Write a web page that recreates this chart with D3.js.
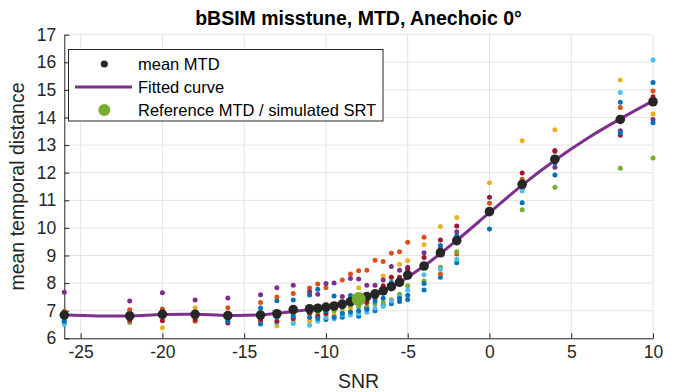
<!DOCTYPE html>
<html><head><meta charset="utf-8">
<script src="https://cdn.jsdelivr.net/npm/d3@7"></script>
<style>
html,body{margin:0;padding:0;background:#fff;}
svg{display:block;font-family:"Liberation Sans",Arial,Helvetica,sans-serif;}
</style></head>
<body><svg id="c" width="676" height="392"></svg>
<script>
const snr = [-26,-22,-20,-18,-16,-14,-13,-12,-11,-10.5,-10,-9.5,-9,-8.5,-8,-7.5,-7,-6.5,-6,-5.5,-5,-4,-3,-2,0,2,4,8,10];
const meanMTD = [6.84,6.81,6.87,6.87,6.82,6.84,6.89,7.04,7.07,7.09,7.13,7.17,7.24,7.33,7.42,7.51,7.61,7.72,7.87,8.03,8.29,8.62,9.10,9.54,10.59,11.58,12.49,13.93,14.57];
const s1 = [6.88,6.94,6.85,6.90,6.85,7.10,7.36,7.39,7.57,7.78,6.68,7.53,6.76,7.55,6.80,7.10,7.00,7.20,7.25,7.33,7.41,7.75,8.21,8.74,9.96,10.91,11.92,14.55,15.27];
const s2 = [6.98,7.03,7.06,6.62,7.11,7.30,7.50,7.62,7.82,7.97,7.83,7.20,8.11,8.33,8.45,8.47,8.83,8.78,9.08,9.14,9.48,9.66,8.33,9.05,10.89,11.76,12.81,14.36,14.96];
const s3 = [6.72,6.75,6.38,7.11,6.70,6.57,6.45,6.62,6.62,6.96,6.82,6.84,6.95,7.10,7.83,7.40,7.50,8.26,8.21,8.68,8.81,9.39,10.05,10.38,11.64,13.16,13.56,15.36,14.13];
const s4 = [7.67,7.35,7.65,7.39,7.46,7.58,7.83,7.92,7.69,7.60,7.99,8.00,7.51,8.17,8.15,7.92,7.92,8.11,8.60,8.47,8.57,9.10,9.25,9.86,10.60,11.43,12.20,13.52,13.93];
const s5 = [6.57,6.57,6.80,6.85,6.82,6.80,6.78,6.88,6.90,6.90,6.95,7.00,7.10,7.20,7.15,7.15,7.25,7.30,7.40,7.60,7.90,8.08,8.57,9.14,10.55,10.66,11.47,12.16,12.53];
const s6 = [6.50,6.90,6.88,6.88,6.80,6.94,6.55,6.54,6.47,6.62,6.75,6.70,6.85,6.84,6.90,6.94,7.10,7.15,7.35,7.50,7.75,8.30,8.50,8.86,10.62,11.34,12.50,14.91,16.08];
const s7 = [6.78,6.65,6.64,6.68,6.55,6.66,6.62,6.72,6.91,6.80,6.90,7.10,7.15,7.30,7.30,7.30,7.45,7.90,8.21,8.21,8.50,8.93,9.56,10.07,11.11,11.99,12.78,13.36,14.75];
const s8 = [6.62,6.85,6.95,6.95,6.62,6.52,6.75,6.80,6.75,6.72,7.00,6.76,6.90,6.95,7.00,7.05,7.35,7.45,8.02,7.45,7.56,7.99,9.36,9.72,10.58,11.55,12.35,13.45,13.81];
const seriesColors = ["#0072BD","#D95319","#EDB120","#7E2F8E","#77AC30","#4DBEEE","#A2142F","#0072BD"];
const fitSnr = [-26,-24,-22,-20,-18,-16,-14,-12,-10,-8,-6,-4,-2,0,2,4,6,8,10];
const fitVal = [6.84,6.81,6.81,6.86,6.87,6.83,6.85,6.97,7.13,7.42,7.87,8.62,9.55,10.55,11.55,12.45,13.25,13.95,14.6];
const refSnr = [-8];
const refMTD = [7.42];
const xTicks = [-25,-20,-15,-10,-5,0,5,10];
const yTicks = [6,7,8,9,10,11,12,13,14,15,16,17];
const legendLabels = ["mean MTD","Fitted curve","Reference MTD / simulated SRT"];
const titleText = "bBSIM misstune, MTD, Anechoic 0°";

const svg = d3.select("#c");
const x = d3.scaleLinear().domain([-26,10]).range([64.3,653]);
const y = d3.scaleLinear().domain([6,17]).range([338.3,34.7]);
const axCol = "#262626";

// grid
const g = svg.append("g");
g.selectAll("line.vx").data(xTicks).join("line")
  .attr("x1",d=>x(d)).attr("x2",d=>x(d)).attr("y1",y(6)).attr("y2",y(17))
  .attr("stroke","#e3e3e3").attr("stroke-width",1);
g.selectAll("line.hy").data(yTicks).join("line")
  .attr("y1",d=>y(d)).attr("y2",d=>y(d)).attr("x1",x(-26)).attr("x2",x(10))
  .attr("stroke","#e3e3e3").attr("stroke-width",1);

// axes
const xa = svg.append("g").attr("transform",`translate(0,${y(6)})`)
  .call(d3.axisBottom(x).tickValues(xTicks).tickFormat(d=>String(d)).tickSizeInner(-5).tickSizeOuter(0).tickPadding(7));
const ya = svg.append("g").attr("transform",`translate(${x(-26)},0)`)
  .call(d3.axisLeft(y).tickValues(yTicks).tickFormat(d=>String(d)).tickSizeInner(-5).tickSizeOuter(0).tickPadding(8));
[xa,ya].forEach(a=>{
  a.select(".domain").attr("stroke",axCol).attr("stroke-width",1);
  a.selectAll(".tick line").attr("stroke",axCol);
  a.selectAll(".tick text").attr("fill",axCol).style("font-size","17.5px").style("font-family","'Liberation Sans',Arial,sans-serif");
});

// colored points
const allSeries = [s1,s2,s3,s4,s5,s6,s7,s8];
allSeries.forEach((s,i)=>{
  svg.append("g").selectAll("circle").data(s).join("circle")
    .attr("cx",(d,j)=>x(snr[j])).attr("cy",d=>y(d)).attr("r",2.5)
    .attr("fill",seriesColors[i]);
});

// fitted curve
const line = d3.line().x((d,i)=>x(fitSnr[i])).y(d=>y(d)).curve(d3.curveCatmullRom.alpha(0.5));
svg.append("path").datum(fitVal).attr("d",line).attr("fill","none")
  .attr("stroke","#7E2F8E").attr("stroke-width",3);

// means
svg.append("g").selectAll("circle").data(meanMTD).join("circle")
  .attr("cx",(d,i)=>x(snr[i])).attr("cy",d=>y(d)).attr("r",4.8).attr("fill","#262626");

// reference
svg.append("g").selectAll("circle").data(refMTD).join("circle")
  .attr("cx",(d,i)=>x(refSnr[i])).attr("cy",d=>y(d)).attr("r",7).attr("fill","#77AC30");

// title and labels
svg.append("text").attr("x",358.5).attr("y",25).attr("text-anchor","middle")
  .style("font-size","19.5px").style("font-weight","bold").attr("fill","#000").text(titleText);
svg.append("text").attr("x",358.5).attr("y",388).attr("text-anchor","middle")
  .style("font-size","19.5px").attr("fill",axCol).text("SNR");
svg.append("text").attr("transform",`translate(24,${(y(6)+y(17))/2}) rotate(-90)`).attr("text-anchor","middle")
  .style("font-size","19.5px").attr("fill",axCol).text("mean temporal distance");

// legend
const lg = svg.append("g");
lg.append("rect").attr("x",68.5).attr("y",49.5).attr("width",314.5).attr("height",71.5)
  .attr("fill","#fff").attr("stroke",axCol).attr("stroke-width",1);
const rowY = [64,87,110];
lg.append("circle").attr("cx",104.3).attr("cy",rowY[0]).attr("r",3.6).attr("fill","#262626");
lg.append("line").attr("x1",75).attr("x2",132).attr("y1",rowY[1]).attr("y2",rowY[1]).attr("stroke","#7E2F8E").attr("stroke-width",3);
lg.append("circle").attr("cx",104.3).attr("cy",rowY[2]).attr("r",6).attr("fill","#77AC30");
lg.selectAll("text").data(legendLabels).join("text")
  .attr("x",138).attr("y",(d,i)=>rowY[i]).attr("dy","0.36em")
  .style("font-size","16.5px").attr("fill","#000").text(d=>d);
</script></body></html>
